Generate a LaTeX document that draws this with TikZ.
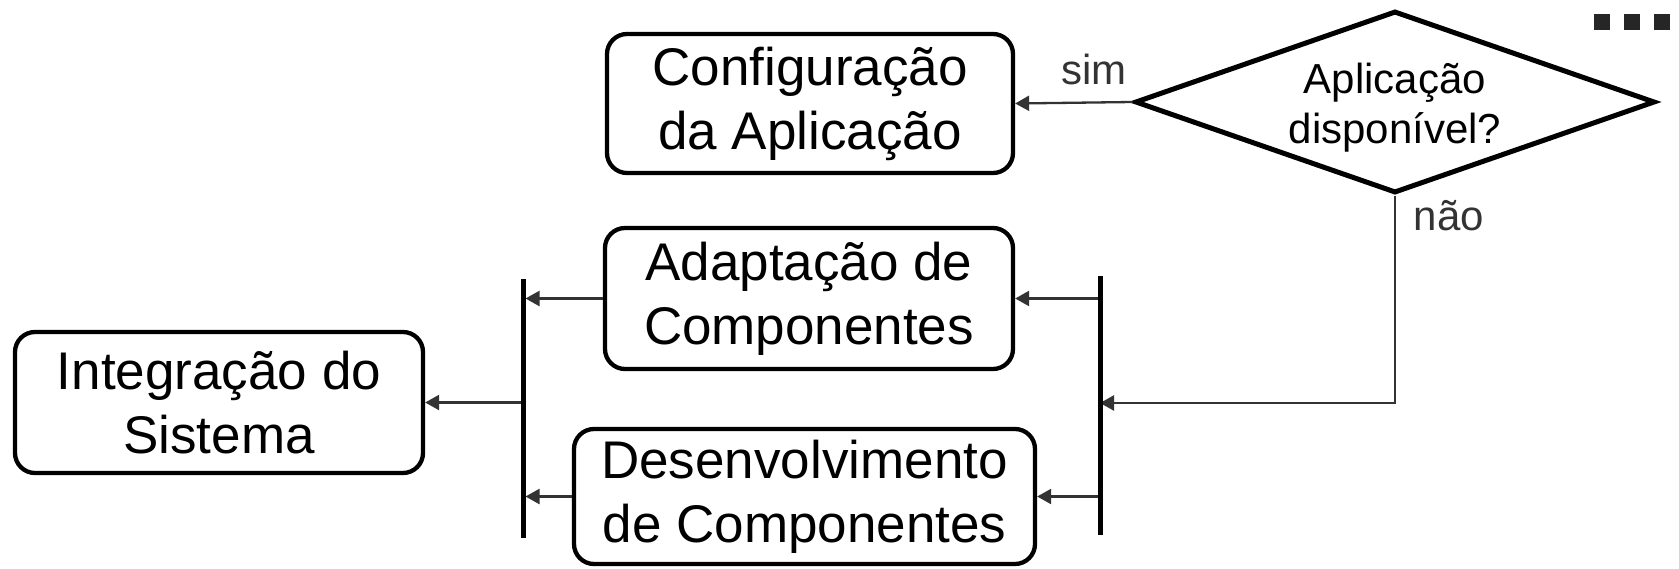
\documentclass[tikz,border=0pt]{standalone}
\usepackage{fontspec}
\setmainfont{Liberation Sans}
\usetikzlibrary{shapes.geometric,arrows.meta}
\definecolor{arrowgray}{HTML}{333333}
\definecolor{dotgray}{HTML}{262626}
\begin{document}
\begin{tikzpicture}[x=1pt,y=-1pt,
  procbox/.style={draw=black, line width=4.3pt, rounded corners=20pt, align=center, inner sep=0pt, font=\fontsize{53}{64}\selectfont, text=black},
  decision/.style={draw=black, line width=5pt, shape=diamond, aspect=2.85, inner sep=0pt, minimum width=520pt, minimum height=182pt},
  dectext/.style={align=center, inner sep=0pt, font=\fontsize{42}{50}\selectfont, text=black},
  conn/.style={draw=arrowgray, line width=2.3pt, -{Triangle[length=14pt,width=15pt]}},
  bar/.style={draw=black, line width=5pt},
  lbl/.style={text=arrowgray, font=\fontsize{42}{50}\selectfont, inner sep=0pt},
  dot/.style={fill=dotgray, inner sep=0pt, minimum size=16pt}
]
\useasboundingbox (0,0) rectangle (1679,568);

\node[procbox, minimum width=406pt, minimum height=139pt] (cfg) at (810,103.5) {Configuração\\da Aplicação};
\node[procbox, minimum width=408pt, minimum height=141pt] (adapt) at (809,298.5) {Adaptação de\\Componentes};
\node[procbox, minimum width=461pt, minimum height=135pt] (desenv) at (804.5,496.5) {Desenvolvimento\\de Componentes};
\node[procbox, minimum width=408pt, minimum height=141pt] (integ) at (219,402.5) {Integração do\\Sistema};
\node[decision] (dec) at (1395,102) {};
\node[dectext] (dect) at (1395,108) {Aplicação\\disponível?};

\coordinate (lbtop) at (523,279);
\coordinate (lbbot) at (523,538);
\coordinate (rbtop) at (1100,276);
\coordinate (rbbot) at (1100,535);
\coordinate (rbmid) at (1100,403);

\draw[conn] (dec.west) -- (cfg.east);
\draw[conn] (dec.south) |- (rbmid);
\draw[conn] (rbtop |- adapt.east) -- (adapt.east);
\draw[conn] (rbtop |- desenv.east) -- (desenv.east);
\draw[conn] (adapt.west) -- ([xshift=2.5pt]adapt.west -| lbtop);
\draw[conn] (desenv.west) -- ([xshift=2.5pt]desenv.west -| lbtop);
\draw[conn] (integ.east -| lbtop) -- (integ.east);

\draw[bar] (lbtop) -- (lbbot);
\draw[bar] (rbtop) -- (rbbot);

\node[lbl, anchor=base] (simlbl) at (1094,84) {sim};
\node[lbl, anchor=base] (naolbl) at (1449,230) {não};

\node[dot] (d1) at (1602,22) {};
\node[dot] (d2) at (1632,22) {};
\node[dot] (d3) at (1662,22) {};
\end{tikzpicture}
\end{document}
